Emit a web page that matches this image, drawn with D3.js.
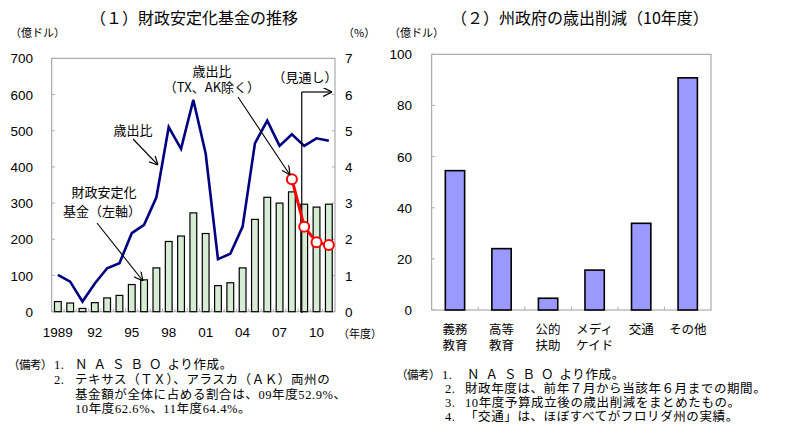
<!DOCTYPE html>
<meta charset="utf-8">
<head>
    <style>
        body { margin: 0; background: #fff; }
        svg { display: block; }
        text { font-family: 'Liberation Sans', 'Noto Sans CJK JP', sans-serif; fill: #000; }
        .jp { font-family: 'Noto Sans CJK JP', sans-serif; }
        .note { font-family: 'Liberation Serif', 'Noto Sans CJK JP', serif; font-size: 12.5px; letter-spacing: 0.6px; }
        .frame { fill: none; stroke: #9a9a9a; stroke-width: 1; }
        .tick { stroke: #b0b0b0; stroke-width: 1; }
    </style>
</head>
<body>
<svg width="792" height="436"></svg>

<script src="https://d3js.org/d3.v7.min.js"></script>
<script type="text/javascript">

    // (1) stabilization fund (left axis, 100M$) and spending ratio (right axis, %)
    var years = d3.range(1989, 2012);
    var fund = [28, 24, 9, 25, 38, 45, 75, 88, 121, 194, 209, 273, 216, 72, 80, 121, 255, 316, 300, 331, 297, 289, 297];
    var ratio = [1.02, 0.83, 0.28, 0.78, 1.2, 1.34, 2.17, 2.4, 3.16, 5.1, 4.5, 5.85, 4.37, 1.45, 1.6, 2.35, 4.65, 5.28, 4.58, 4.9, 4.58, 4.79, 4.72];
    var exYears = [2008, 2009, 2010, 2011];
    var ratioEx = [3.66, 2.35, 1.92, 1.84];
    var yearLabels = ["1989", "92", "95", "98", "01", "04", "07", "10"];
    var leftTicks = [0, 100, 200, 300, 400, 500, 600, 700];
    var rightTicks = [0, 1, 2, 3, 4, 5, 6, 7];

    // (2) spending cuts FY10
    var cats = [["義務", "教育"], ["高等", "教育"], ["公的", "扶助"], ["メディ", "ケイド"], ["交通", ""], ["その他", ""]];
    var cuts = [54.5, 24, 4.6, 15.6, 33.9, 90.8];
    var cutTicks = [0, 20, 40, 60, 80, 100];

    var svg = d3.select("svg");

    var defs = svg.append("defs");
    defs.append("marker")
        .attr("id", "arr")
        .attr("viewBox", "0 0 10 10")
        .attr("refX", 10).attr("refY", 5)
        .attr("markerWidth", 9).attr("markerHeight", 9)
        .attr("markerUnits", "userSpaceOnUse")
        .attr("orient", "auto")
        .append("path")
        .attr("d", "M0,0L10,5L0,10")
        .attr("fill", "none")
        .attr("stroke", "#000")
        .attr("stroke-width", 1.3);

    // ---------- left chart ----------
    var x = d3.scaleBand()
        .domain(years)
        .range([51.7, 335])
        .paddingInner(0.45)
        .paddingOuter(0.225);

    var y = d3.scaleLinear().domain([0, 700]).range([311.7, 58.3]);
    var y2 = d3.scaleLinear().domain([0, 7]).range([311.7, 58.3]);

    function cx(yr) { return x(yr) + x.bandwidth() / 2; }

    var g1 = svg.append("g");

    g1.append("rect")
        .attr("class", "frame")
        .attr("x", 51.7).attr("y", 58.3)
        .attr("width", 335 - 51.7).attr("height", 311.7 - 58.3);

    // inner ticks
    g1.selectAll(".lt").data(leftTicks).enter().append("line")
        .attr("class", "tick")
        .attr("x1", 51.7).attr("x2", 55)
        .attr("y1", function (d) { return y(d); }).attr("y2", function (d) { return y(d); });
    g1.selectAll(".rt").data(rightTicks).enter().append("line")
        .attr("class", "tick")
        .attr("x1", 331.7).attr("x2", 335)
        .attr("y1", function (d) { return y2(d); }).attr("y2", function (d) { return y2(d); });
    g1.selectAll(".bt").data(years).enter().append("line")
        .attr("class", "tick")
        .attr("x1", function (d) { return x(d) - x.step() * 0.225; })
        .attr("x2", function (d) { return x(d) - x.step() * 0.225; })
        .attr("y1", 311.7).attr("y2", 308.5);

    g1.selectAll(".bar")
        .data(fund)
        .enter().append("rect")
        .attr("x", function (d, i) { return x(years[i]); })
        .attr("y", function (d) { return y(d); })
        .attr("width", x.bandwidth())
        .attr("height", function (d) { return y(0) - y(d); })
        .attr("fill", "#d6ecd4")
        .attr("stroke", "#000")
        .attr("stroke-width", 1.2);

    var line = d3.line()
        .x(function (d) { return cx(d[0]); })
        .y(function (d) { return y2(d[1]); });

    g1.append("path")
        .datum(d3.zip(years, ratio))
        .attr("d", line)
        .attr("fill", "none")
        .attr("stroke", "#000080")
        .attr("stroke-width", 2.6)
        .attr("stroke-linejoin", "miter");

    // forecast divider
    var vx = cx(2009) - x.step() * 0.2;
    g1.append("line")
        .attr("x1", vx).attr("x2", vx)
        .attr("y1", 313).attr("y2", 92)
        .attr("stroke", "#000").attr("stroke-width", 1.2);
    g1.append("line")
        .attr("x1", vx).attr("x2", 332)
        .attr("y1", 92).attr("y2", 92)
        .attr("stroke", "#000").attr("stroke-width", 1.2)
        .attr("marker-end", "url(#arr)");

    g1.append("path")
        .datum(d3.zip(exYears, ratioEx))
        .attr("d", line)
        .attr("fill", "none")
        .attr("stroke", "#ff0000")
        .attr("stroke-width", 3);

    g1.selectAll(".dot")
        .data(d3.zip(exYears, ratioEx))
        .enter().append("circle")
        .attr("cx", function (d) { return cx(d[0]); })
        .attr("cy", function (d) { return y2(d[1]); })
        .attr("r", 5)
        .attr("fill", "#fff")
        .attr("stroke", "#ff0000")
        .attr("stroke-width", 2);

    // axis labels
    g1.selectAll(".ly").data(leftTicks).enter().append("text")
        .attr("x", 33).attr("y", function (d) { return y(d) + 5; })
        .attr("text-anchor", "end")
        .style("font-size", "13.5px")
        .text(function (d) { return d; });
    g1.selectAll(".ry").data(rightTicks).enter().append("text")
        .attr("x", 345).attr("y", function (d) { return y2(d) + 5; })
        .style("font-size", "13.5px")
        .text(function (d) { return d; });
    g1.selectAll(".xl").data(yearLabels).enter().append("text")
        .attr("x", function (d, i) { return cx(years[i * 3]); })
        .attr("y", 336.5)
        .attr("text-anchor", "middle")
        .style("font-size", "13.5px")
        .text(function (d) { return d; });

    g1.append("text").attr("class", "jp").attr("x", 338).attr("y", 338)
        .style("font-size", "11px").text("（年度）");
    g1.append("text").attr("class", "jp").attr("x", 10).attr("y", 37)
        .style("font-size", "11px").text("（億ドル）");
    g1.append("text").attr("class", "jp").attr("x", 343).attr("y", 37)
        .style("font-size", "11px").text("（%）");
    g1.append("text").attr("class", "jp").attr("x", 194).attr("y", 24)
        .attr("text-anchor", "middle")
        .style("font-size", "16px").text("（１）財政安定化基金の推移");

    // annotations
    function note(tx, ty, s) {
        g1.append("text").attr("class", "jp")
            .attr("x", tx).attr("y", ty)
            .attr("text-anchor", "middle")
            .style("font-size", "13px")
            .text(s);
    }
    function arrow(x1, y1, x2, y2) {
        g1.append("line")
            .attr("x1", x1).attr("y1", y1).attr("x2", x2).attr("y2", y2)
            .attr("stroke", "#000").attr("stroke-width", 1.1)
            .attr("marker-end", "url(#arr)");
    }

    note(212, 76, "歳出比");
    note(212, 92, "（TX、AK除く）");
    arrow(238, 97, 290, 175);
    g1.append("text").attr("class", "jp").attr("x", 305).attr("y", 82)
        .attr("text-anchor", "middle").style("font-size", "13px").text("（見通し）");

    note(133, 135, "歳出比");
    arrow(133, 139, 158, 165);

    note(104, 197, "財政安定化");
    note(102, 216, "基金（左軸）");
    arrow(97, 223, 143, 281);

    // ---------- right chart ----------
    var xb = d3.scaleBand()
        .domain(d3.range(cats.length))
        .range([431.7, 711])
        .paddingInner(0.585)
        .paddingOuter(0.2925);
    var yb = d3.scaleLinear().domain([0, 100]).range([310, 54.3]);

    var g2 = svg.append("g");

    g2.append("rect")
        .attr("class", "frame")
        .attr("x", 431.7).attr("y", 54.3)
        .attr("width", 711 - 431.7).attr("height", 310 - 54.3);

    g2.selectAll(".lt").data(cutTicks).enter().append("line")
        .attr("class", "tick")
        .attr("x1", 431.7).attr("x2", 435)
        .attr("y1", function (d) { return yb(d); }).attr("y2", function (d) { return yb(d); });
    g2.selectAll(".bt").data(d3.range(1, cats.length)).enter().append("line")
        .attr("class", "tick")
        .attr("x1", function (d) { return 431.7 + d * xb.step(); })
        .attr("x2", function (d) { return 431.7 + d * xb.step(); })
        .attr("y1", 310).attr("y2", 306.5);

    g2.selectAll(".bar")
        .data(cuts)
        .enter().append("rect")
        .attr("x", function (d, i) { return xb(i); })
        .attr("y", function (d) { return yb(d); })
        .attr("width", xb.bandwidth())
        .attr("height", function (d) { return yb(0) - yb(d); })
        .attr("fill", "#9999ff")
        .attr("stroke", "#000")
        .attr("stroke-width", 1.6);

    g2.selectAll(".ly").data(cutTicks).enter().append("text")
        .attr("x", 412).attr("y", function (d) { return yb(d) + 5; })
        .attr("text-anchor", "end")
        .style("font-size", "13.5px")
        .text(function (d) { return d; });

    g2.selectAll(".cl").data(cats).enter().append("text")
        .attr("class", "jp")
        .attr("text-anchor", "middle")
        .style("font-size", "12.5px")
        .each(function (d, i) {
            var t = d3.select(this);
            var cxp = xb(i) + xb.bandwidth() / 2;
            t.append("tspan").attr("x", cxp).attr("y", 334).text(d[0]);
            t.append("tspan").attr("x", cxp).attr("y", 350).text(d[1]);
        });

    g2.append("text").attr("class", "jp").attr("x", 389).attr("y", 37)
        .style("font-size", "11px").text("（億ドル）");
    g2.append("text").attr("class", "jp").attr("x", 580).attr("y", 24)
        .attr("text-anchor", "middle")
        .style("font-size", "16px").text("（２）州政府の歳出削減（10年度）");

    // ---------- notes ----------
    var notesL = [
        [8, 369, "（備考）", true], [54, 369, "1."], [75, 369, "ＮＡＳＢＯ|より作成。"],
        [54, 384, "2."], [75, 384, "テキサス（ＴＸ）、アラスカ（ＡＫ）両州の"],
        [75, 398.5, "基金額が全体に占める割合は、09年度52.9%、"],
        [75, 413, "10年度62.6%、11年度64.4%。"]
    ];
    var notesR = [
        [396, 379, "（備考）", true], [442, 379, "1."], [467, 379, "ＮＡＳＢＯ|より作成。"],
        [445, 393, "2."], [465, 393, "財政年度は、前年７月から当該年６月までの期間。"],
        [445, 407, "3."], [465, 407, "10年度予算成立後の歳出削減をまとめたもの。"],
        [445, 421, "4."], [465, 421, "「交通」は、ほぼすべてがフロリダ州の実績。"]
    ];
    svg.selectAll(".nt").data(notesL.concat(notesR)).enter().append("text")
        .attr("class", "note")
        .attr("x", function (d) { return d[0]; })
        .attr("y", function (d) { return d[1]; })
        .each(function (d) {
            var t = d3.select(this);
            if (d[3]) {
                t.style("font-size", "11.5px").style("letter-spacing", "-0.5px").text(d[2]);
            } else if (d[2].indexOf("|") >= 0) {
                var p = d[2].split("|");
                t.append("tspan").style("letter-spacing", "6px").text(p[0]);
                t.append("tspan").style("letter-spacing", "0.6px").text(p[1]);
            } else {
                t.text(d[2]);
            }
        });

</script>
</body>
